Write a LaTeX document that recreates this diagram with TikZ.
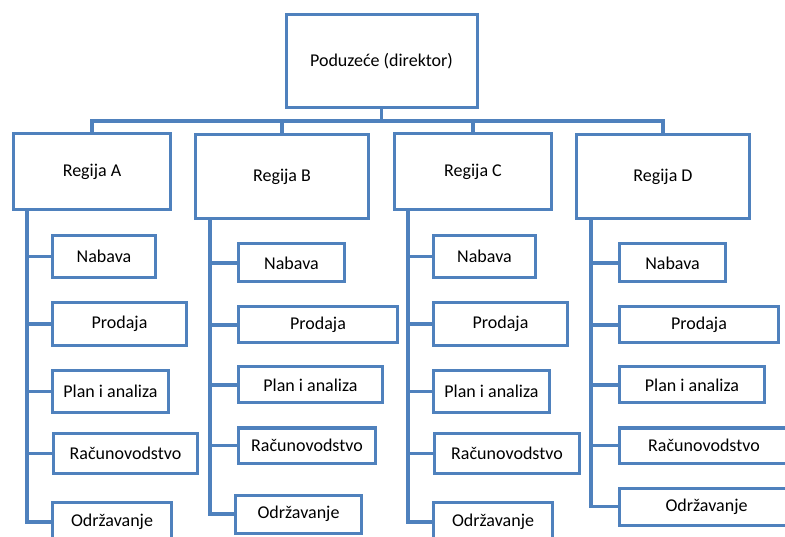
\documentclass[tikz,border=0pt]{standalone}
\usepackage{fontspec}
\setmainfont{Carlito}
\usepackage{tikz}
\definecolor{orgblue}{RGB}{79,129,189}
\tikzset{
	orgbox/.style={draw=orgblue, line width=3pt, rectangle, fill=white, inner sep=2pt,
		font=\fontsize{18}{21}\selectfont, text=black},
	orgline/.style={draw=orgblue, line width=3.2pt}
}

\begin{document}
\begin{tikzpicture}[x=1pt, y=-1pt]
	\useasboundingbox (0,0) rectangle (785,537);
	\clip (0,0) rectangle (785,537);
	% top
	\node[orgbox, minimum width=191, minimum height=93] (top) at (381.5,61) {Poduzeće (direktor)};
	\coordinate (bus) at (381.5,121);
	% regions
	\node[orgbox, minimum width=157, minimum height=76] (ra) at (92,171.5) {Regija A};
	\node[orgbox, minimum width=173, minimum height=84] (rb) at (282,176.5) {Regija B};
	\node[orgbox, minimum width=157, minimum height=76] (rc) at (473,171.5) {Regija C};
	\node[orgbox, minimum width=173, minimum height=84] (rd) at (663,176.5) {Regija D};
	% Regija A
	\node[orgbox, minimum width=103, minimum height=42] (ra1) at (104,256.5) {Nabava};
	\node[orgbox, minimum width=134, minimum height=43] (ra2) at (119.5,324) {Prodaja};
	\node[orgbox, minimum width=116, minimum height=42] (ra3) at (110.5,391.5) {Plan i analiza};
	\node[orgbox, minimum width=144, minimum height=40] (ra4) at (125.5,453.5) {Računovodstvo};
	\node[orgbox, minimum width=119, minimum height=40] (ra5) at (112,522) {Održavanje};
	% Regija B
	\node[orgbox, minimum width=106, minimum height=38] (rb1) at (291.5,263) {Nabava};
	\node[orgbox, minimum width=159, minimum height=36] (rb2) at (318,325) {Prodaja};
	\node[orgbox, minimum width=144, minimum height=36] (rb3) at (310.5,385) {Plan i analiza};
	\node[orgbox, minimum width=137, minimum height=35] (rb4) at (307,445.5) {Računovodstvo};
	\node[orgbox, minimum width=126, minimum height=38] (rb5) at (298.5,514) {Održavanje};
	% Regija C
	\node[orgbox, minimum width=102, minimum height=42] (rc1) at (484.5,256.5) {Nabava};
	\node[orgbox, minimum width=134, minimum height=43] (rc2) at (500.5,324) {Prodaja};
	\node[orgbox, minimum width=116, minimum height=42] (rc3) at (491.5,391.5) {Plan i analiza};
	\node[orgbox, minimum width=145, minimum height=40] (rc4) at (507,453.5) {Računovodstvo};
	\node[orgbox, minimum width=119, minimum height=40] (rc5) at (493,522) {Održavanje};
	% Regija D
	\node[orgbox, minimum width=106, minimum height=38] (rd1) at (672.5,263) {Nabava};
	\node[orgbox, minimum width=159, minimum height=36] (rd2) at (699,325) {Prodaja};
	\node[orgbox, minimum width=145, minimum height=36] (rd3) at (692,385) {Plan i analiza};
	\node[orgbox, minimum width=169, minimum height=35] (rd4) at (704,445.5) {Računovodstvo};
	\node[orgbox, minimum width=174, minimum height=37] (rd5) at (706.5,506.5) {Održavanje};
	% connectors
	\draw[orgline] (top.south) -- (bus);
	\draw[orgline] (bus) -| (ra.north);
	\draw[orgline] (bus) -| (rb.north);
	\draw[orgline] (bus) -| (rc.north);
	\draw[orgline] (bus) -| (rd.north);
	\draw[orgline] ([xshift=15pt]ra.south west) |- (ra1.west);
	\draw[orgline] ([xshift=15pt]ra.south west) |- (ra2.west);
	\draw[orgline] ([xshift=15pt]ra.south west) |- (ra3.west);
	\draw[orgline] ([xshift=15pt]ra.south west) |- (ra4.west);
	\draw[orgline] ([xshift=15pt]ra.south west) |- (ra5.west);
	\draw[orgline] ([xshift=16pt]rb.south west) |- (rb1.west);
	\draw[orgline] ([xshift=16pt]rb.south west) |- (rb2.west);
	\draw[orgline] ([xshift=16pt]rb.south west) |- (rb3.west);
	\draw[orgline] ([xshift=16pt]rb.south west) |- (rb4.west);
	\draw[orgline] ([xshift=16pt]rb.south west) |- (rb5.west);
	\draw[orgline] ([xshift=15pt]rc.south west) |- (rc1.west);
	\draw[orgline] ([xshift=15pt]rc.south west) |- (rc2.west);
	\draw[orgline] ([xshift=15pt]rc.south west) |- (rc3.west);
	\draw[orgline] ([xshift=15pt]rc.south west) |- (rc4.west);
	\draw[orgline] ([xshift=15pt]rc.south west) |- (rc5.west);
	\draw[orgline] ([xshift=16pt]rd.south west) |- (rd1.west);
	\draw[orgline] ([xshift=16pt]rd.south west) |- (rd2.west);
	\draw[orgline] ([xshift=16pt]rd.south west) |- (rd3.west);
	\draw[orgline] ([xshift=16pt]rd.south west) |- (rd4.west);
	\draw[orgline] ([xshift=16pt]rd.south west) |- (rd5.west);
\end{tikzpicture}
\end{document}
